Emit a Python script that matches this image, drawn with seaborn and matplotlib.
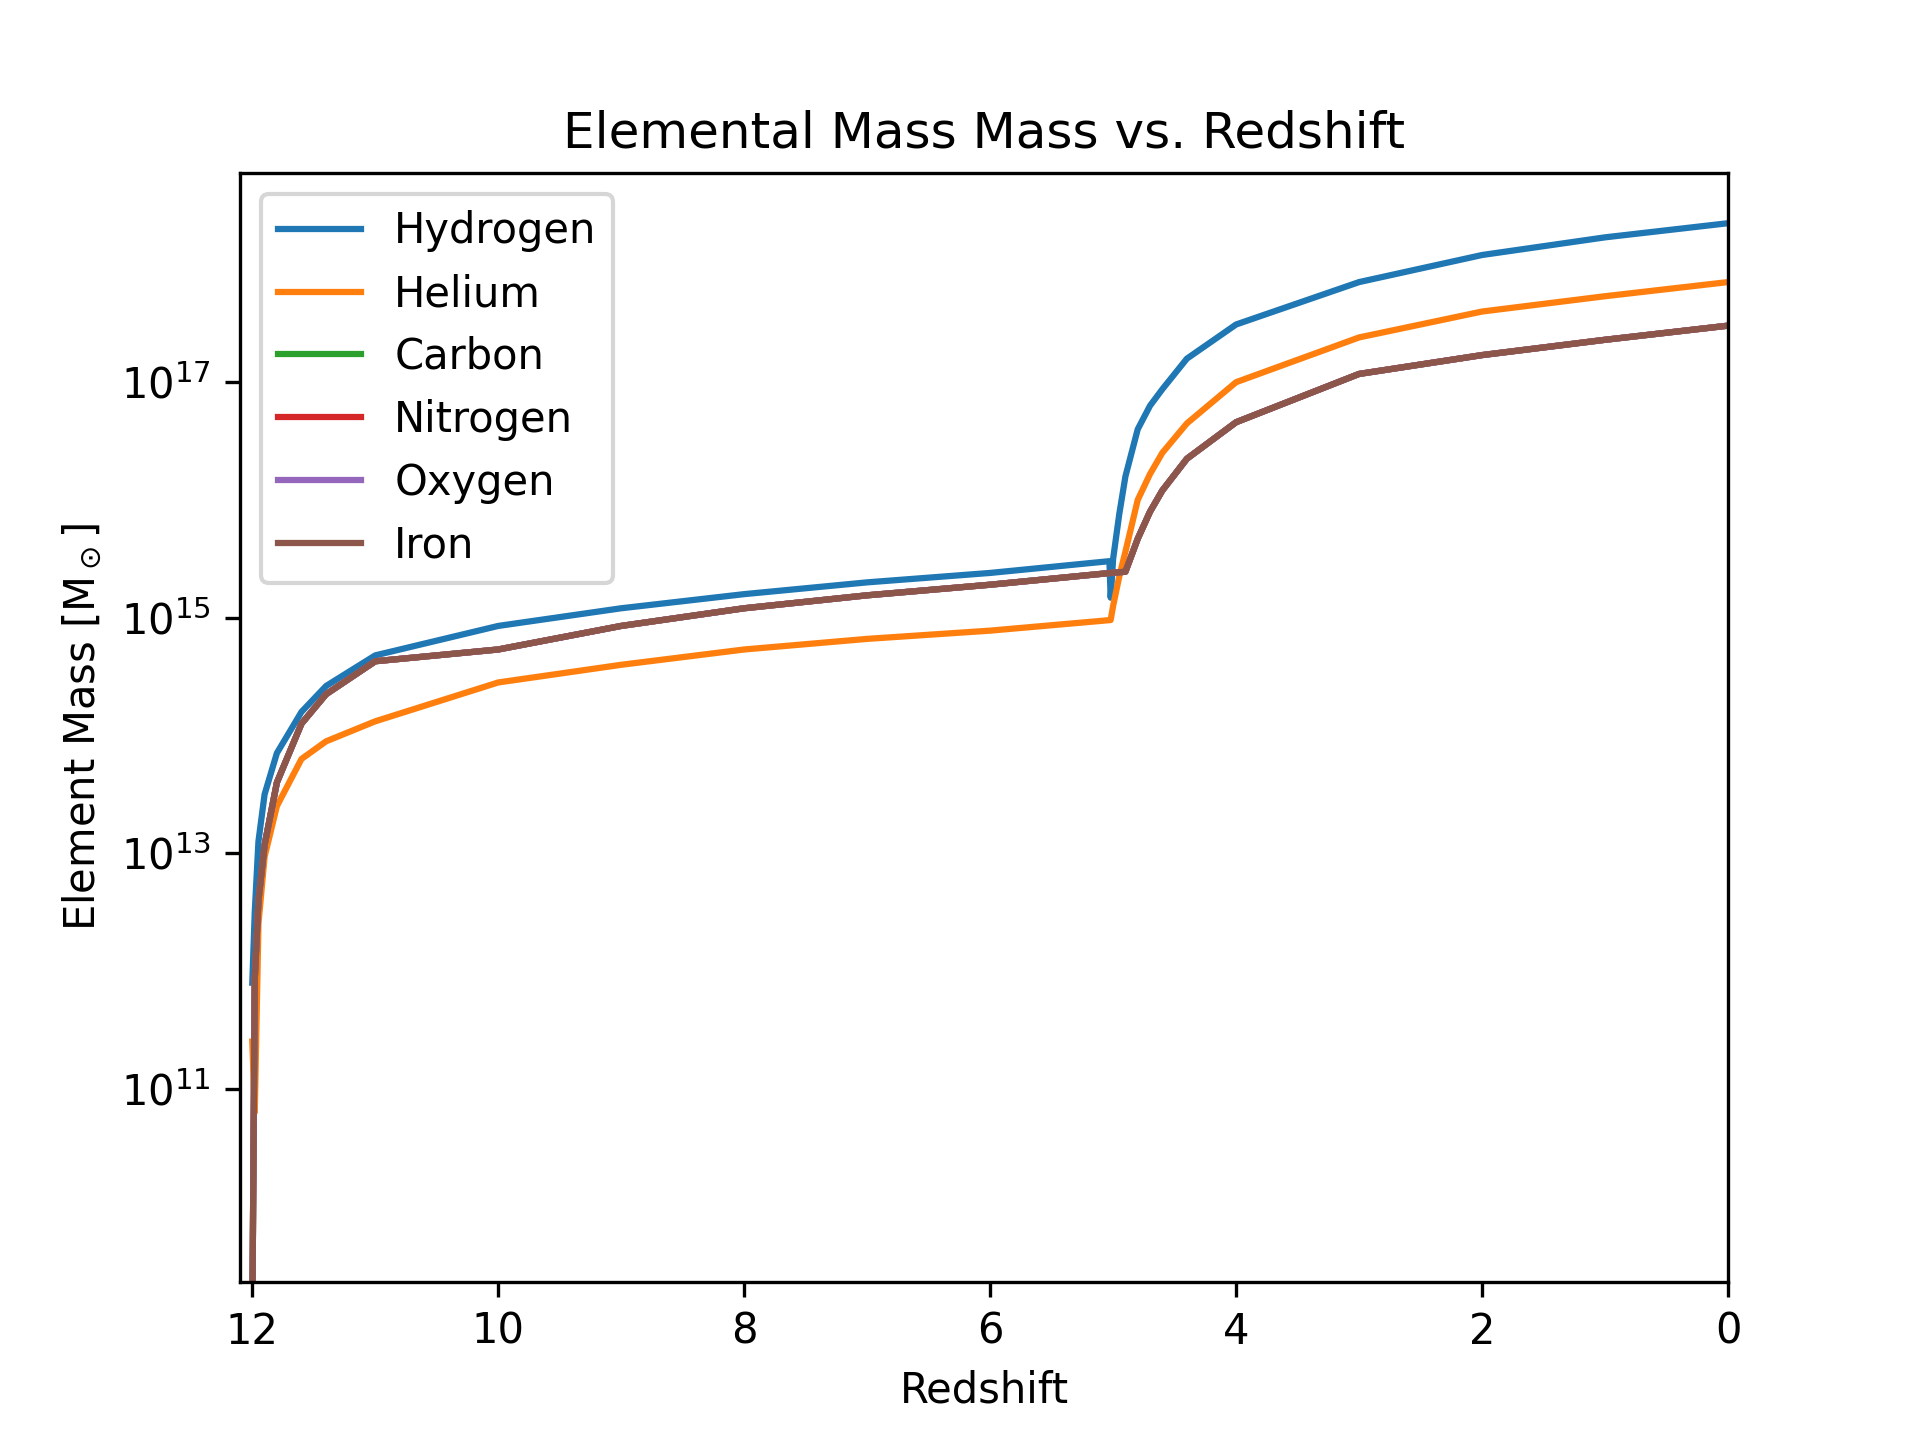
import numpy as np
import pandas as pd
import matplotlib
matplotlib.use("Agg")
import matplotlib.pyplot as plt
import seaborn as sns

# redshift samples and log10 element masses
z_h = [12.0, 11.98, 11.95, 11.9, 11.8, 11.6, 11.4, 11.0, 10.0, 9.0, 8.0, 7.0, 6.0, 5.03, 5.02, 5.0, 4.95, 4.9, 4.8, 4.7, 4.6, 4.4, 4.0, 3.0, 2.0, 1.0, 0.0]
log_h = [11.9, 12.5, 13.1, 13.5, 13.85, 14.2, 14.42, 14.68, 14.93, 15.08, 15.2, 15.3, 15.38, 15.48, 15.17, 15.5, 15.88, 16.2, 16.6, 16.8, 16.94, 17.2, 17.49, 17.85, 18.08, 18.23, 18.35]

z_he = [12.0, 11.98, 11.95, 11.9, 11.8, 11.6, 11.4, 11.0, 10.0, 9.0, 8.0, 7.0, 6.0, 5.02, 5.0, 4.95, 4.9, 4.8, 4.7, 4.6, 4.4, 4.0, 3.0, 2.0, 1.0, 0.0]
log_he = [11.4, 10.8, 12.4, 12.97, 13.4, 13.8, 13.95, 14.12, 14.45, 14.6, 14.73, 14.82, 14.89, 14.98, 15.1, 15.35, 15.56, 16.0, 16.22, 16.4, 16.65, 17.0, 17.38, 17.6, 17.73, 17.85]

z_m = [12.0, 11.99, 11.98, 11.95, 11.9, 11.8, 11.6, 11.4, 11.0, 10.0, 9.0, 8.0, 7.0, 6.0, 5.02, 4.9, 4.8, 4.7, 4.6, 4.4, 4.0, 3.0, 2.0, 1.0, 0.0]
log_m = [9.0, 10.5, 11.93, 12.6, 13.07, 13.6, 14.1, 14.35, 14.63, 14.73, 14.93, 15.08, 15.19, 15.28, 15.38, 15.39, 15.67, 15.9, 16.08, 16.35, 16.66, 17.07, 17.23, 17.36, 17.48]

elements = ["Hydrogen", "Helium", "Carbon", "Nitrogen", "Oxygen", "Iron"]

frames = [pd.DataFrame({"z": z_h, "mass": 10.0 ** np.array(log_h), "element": "Hydrogen"}),
          pd.DataFrame({"z": z_he, "mass": 10.0 ** np.array(log_he), "element": "Helium"})]
for el in elements[2:]:
    frames.append(pd.DataFrame({"z": z_m, "mass": 10.0 ** np.array(log_m), "element": el}))
df = pd.concat(frames, ignore_index=True)

fig, ax = plt.subplots(figsize=(6.4, 4.8), dpi=300)
sns.lineplot(data=df, x="z", y="mass", hue="element", hue_order=elements,
             palette=sns.color_palette("tab10", 6), sort=False, estimator=None,
             linewidth=1.5, ax=ax)
ax.set_yscale("log")
ax.set_xlim(12.1, 0)
ax.set_ylim(2.3e9, 6e18)
ax.set_xticks([12, 10, 8, 6, 4, 2, 0])
ax.set_yticks([1e11, 1e13, 1e15, 1e17])
ax.yaxis.set_minor_locator(matplotlib.ticker.NullLocator())
ax.set_xlabel("Redshift")
ax.set_ylabel(r"Element Mass [M$_\odot$]")
ax.set_title("Elemental Mass Mass vs. Redshift")
ax.legend(loc="upper left", title=None)

fig.savefig("out.png", dpi=300)
